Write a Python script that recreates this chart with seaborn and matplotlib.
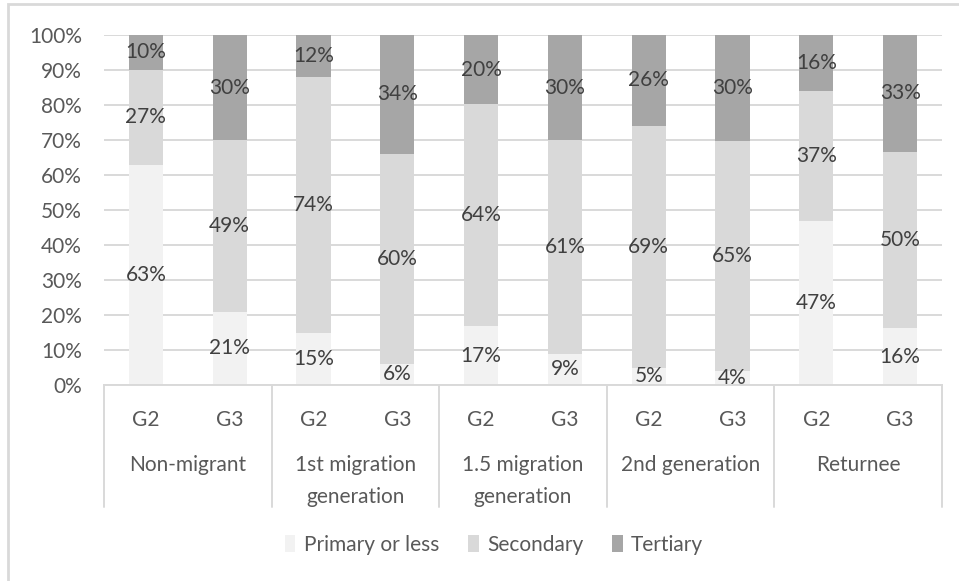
import pandas as pd
import matplotlib.pyplot as plt
import seaborn as sns
from matplotlib.patches import Patch, Rectangle
from matplotlib.lines import Line2D
import matplotlib.transforms as mtransforms

# =========================
# 1. DATA
# =========================
groups = ["Non-migrant", "1st migration\ngeneration", "1.5 migration\ngeneration",
          "2nd generation", "Returnee"]
gens = ["G2", "G3"]

# shares (%) per bar, in order: group1 G2, group1 G3, group2 G2, ...
primary = [63, 21, 15, 6, 17, 9, 5, 4, 47, 16]
secondary = [27, 49, 74, 60, 64, 61, 69, 65, 37, 50]
tertiary = [10, 30, 12, 34, 20, 30, 26, 30, 16, 33]

levels = ["Primary or less", "Secondary", "Tertiary"]
colors = ["#f2f2f2", "#d9d9d9", "#a6a6a6"]

rows = []
for i, g in enumerate(groups):
    for j, gen in enumerate(gens):
        k = 2 * i + j
        rows.append({"bar": f"{g} {gen}", "group": g, "gen": gen,
                     "Primary or less": primary[k],
                     "Secondary": secondary[k],
                     "Tertiary": tertiary[k]})
df = pd.DataFrame(rows)
order = list(df["bar"])

# 100% stacked: normalise each bar, then cumulate
shares = df[levels].div(df[levels].sum(axis=1), axis=0) * 100
cum = shares.cumsum(axis=1)
df["cum_primary"] = cum["Primary or less"]
df["cum_secondary"] = cum["Secondary"]
df["cum_tertiary"] = cum["Tertiary"]

# =========================
# 2. PLOT
# =========================
sns.set_style("white")
plt.rcParams["font.family"] = ["Lato", "DejaVu Sans"]
FS = 15

W, H = 959, 581
fig = plt.figure(figsize=(W / 100, H / 100), dpi=100)
ax = fig.add_axes([104 / W, 1 - 385 / H, 838 / W, 350 / H])

# draw from the top layer down so each one covers the previous
for col, c in zip(["cum_tertiary", "cum_secondary", "cum_primary"], colors[::-1]):
    sns.barplot(data=df, x="bar", y=col, order=order, color=c, saturation=1,
                width=0.41, linewidth=0, errorbar=None, ax=ax, zorder=2)

# value labels in the middle of each segment
for k in range(len(df)):
    bottom = 0
    for lev in levels:
        h = shares.loc[k, lev]
        ax.text(k, bottom + h / 2, f"{df.loc[k, lev]}%", ha="center", va="center",
                fontsize=FS, color="#404040", zorder=3)
        bottom += h

ax.set_xlim(-0.5, 9.5)
ax.set_ylim(0, 100)
ax.set_yticks(range(0, 101, 10))
ax.set_yticklabels([f"{v}%" for v in range(0, 101, 10)])
ax.set_xticks(range(len(order)))
ax.set_xticklabels(list(df["gen"]))
ax.tick_params(axis="y", length=0, pad=16, labelsize=FS, labelcolor="#595959")
ax.tick_params(axis="x", length=0, pad=18, labelsize=FS, labelcolor="#595959")
ax.set_xlabel("")
ax.set_ylabel("")

ax.yaxis.grid(True, color="#d9d9d9", linewidth=1.4)
ax.set_axisbelow(True)
for s in ["top", "left", "right"]:
    ax.spines[s].set_visible(False)
ax.spines["bottom"].set_color("#d9d9d9")
ax.spines["bottom"].set_linewidth(1.4)

# group names and separators below the axis
trans = mtransforms.blended_transform_factory(ax.transData, ax.transAxes)
for i, g in enumerate(groups):
    ax.text(2 * i + 0.5, -(455 - 385) / 350, g, transform=trans, ha="center", va="top",
            fontsize=FS, color="#595959", linespacing=1.75)
for x in [-0.5, 1.5, 3.5, 5.5, 7.5, 9.5]:
    ax.add_line(Line2D([x, x], [0, -(507 - 385) / 350], transform=trans,
                       color="#d9d9d9", linewidth=1.4, clip_on=False))

# legend
handles = [Patch(facecolor=c, edgecolor="none", label=l) for l, c in zip(levels, colors)]
fig.legend(handles=handles, loc="center", bbox_to_anchor=(494 / W, 1 - 545 / H), ncol=3,
           frameon=False, fontsize=FS, labelcolor="#595959", handlelength=0.5,
           handleheight=0.9, handletextpad=0.4, columnspacing=1.4)

# chart frame
fig.patches.append(Rectangle((8 / W, -0.1), 2, 1.1 - 4 / H, transform=fig.transFigure,
                             fill=False, edgecolor="#d9d9d9", linewidth=2))

plt.savefig("out.png", dpi=100)
